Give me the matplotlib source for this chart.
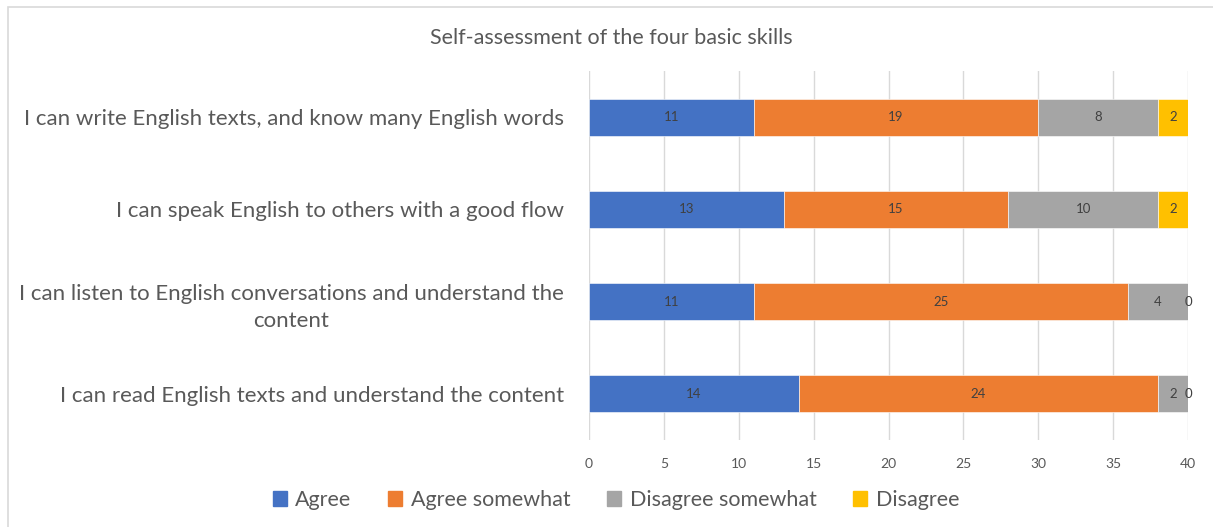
import matplotlib.pyplot as plt
import matplotlib.patches as mpatches
import numpy as np

plt.rcParams['font.family'] = ['Lato', 'DejaVu Sans']

categories = [
    'I can read English texts and understand the content',
    'I can listen to English conversations and understand the\ncontent',
    'I can speak English to others with a good flow',
    'I can write English texts, and know many English words',
]
series_names = ['Agree', 'Agree somewhat', 'Disagree somewhat', 'Disagree']
agree = [14, 11, 13, 11]
agree_somewhat = [24, 25, 15, 19]
disagree_somewhat = [2, 4, 10, 8]
disagree = [0, 0, 2, 2]
colors = ['#4472C4', '#ED7D31', '#A5A5A5', '#FFC000']
x_ticks = [0, 5, 10, 15, 20, 25, 30, 35, 40]

text_col = '#595959'

fig = plt.figure(figsize=(12.13, 5.27), dpi=100)
fig.patch.set_facecolor('white')

# light outer frame
fig.patches.append(mpatches.Rectangle((8 / 1213, -0.05), 1.1, 1 - 7 / 527 + 0.05,
                                      transform=fig.transFigure, fill=False,
                                      edgecolor='#D9D9D9', linewidth=1.2))

ax = fig.add_axes([589 / 1213, 1 - 440 / 527, (1188 - 589) / 1213, (440 - 71) / 527])

y = np.arange(len(categories))
left = np.zeros(len(categories))
for name, vals, col in zip(series_names, [agree, agree_somewhat, disagree_somewhat, disagree], colors):
    bars = ax.barh(y, vals, left=left, height=0.4, color=col, label=name,
                   edgecolor='white', linewidth=0.4, zorder=3)
    ax.bar_label(bars, labels=[str(v) for v in vals], label_type='center',
                 fontsize=9.5, color='#404040', zorder=4)
    left += np.array(vals)

ax.set_xlim(0, 40)
ax.set_ylim(-0.5, 3.5)
ax.set_xticks(x_ticks)
ax.set_xticklabels([str(t) for t in x_ticks], fontsize=10, color=text_col)
ax.set_yticks(y)
ax.set_yticklabels(categories, fontsize=16, color=text_col,
                   multialignment='center', linespacing=1.45)
ax.tick_params(axis='both', length=0)
ax.tick_params(axis='x', pad=13)
ax.tick_params(axis='y', pad=18)
ax.grid(True, axis='x', color='#D9D9D9', linewidth=1, zorder=0)
for s in ax.spines.values():
    s.set_visible(False)

fig.text(611 / 1213, 1 - 38 / 527, 'Self-assessment of the four basic skills',
         ha='center', va='center', fontsize=15.5, color=text_col)

handles = [mpatches.Patch(color=c) for c in colors]
fig.legend(handles, series_names, loc='center', bbox_to_anchor=(616 / 1213, 1 - 500 / 527),
           ncol=4, frameon=False, fontsize=15.5, labelcolor=text_col,
           handlelength=0.65, handleheight=0.65, handletextpad=0.4, columnspacing=1.7)

fig.savefig('out.png', dpi=100, facecolor='white')
